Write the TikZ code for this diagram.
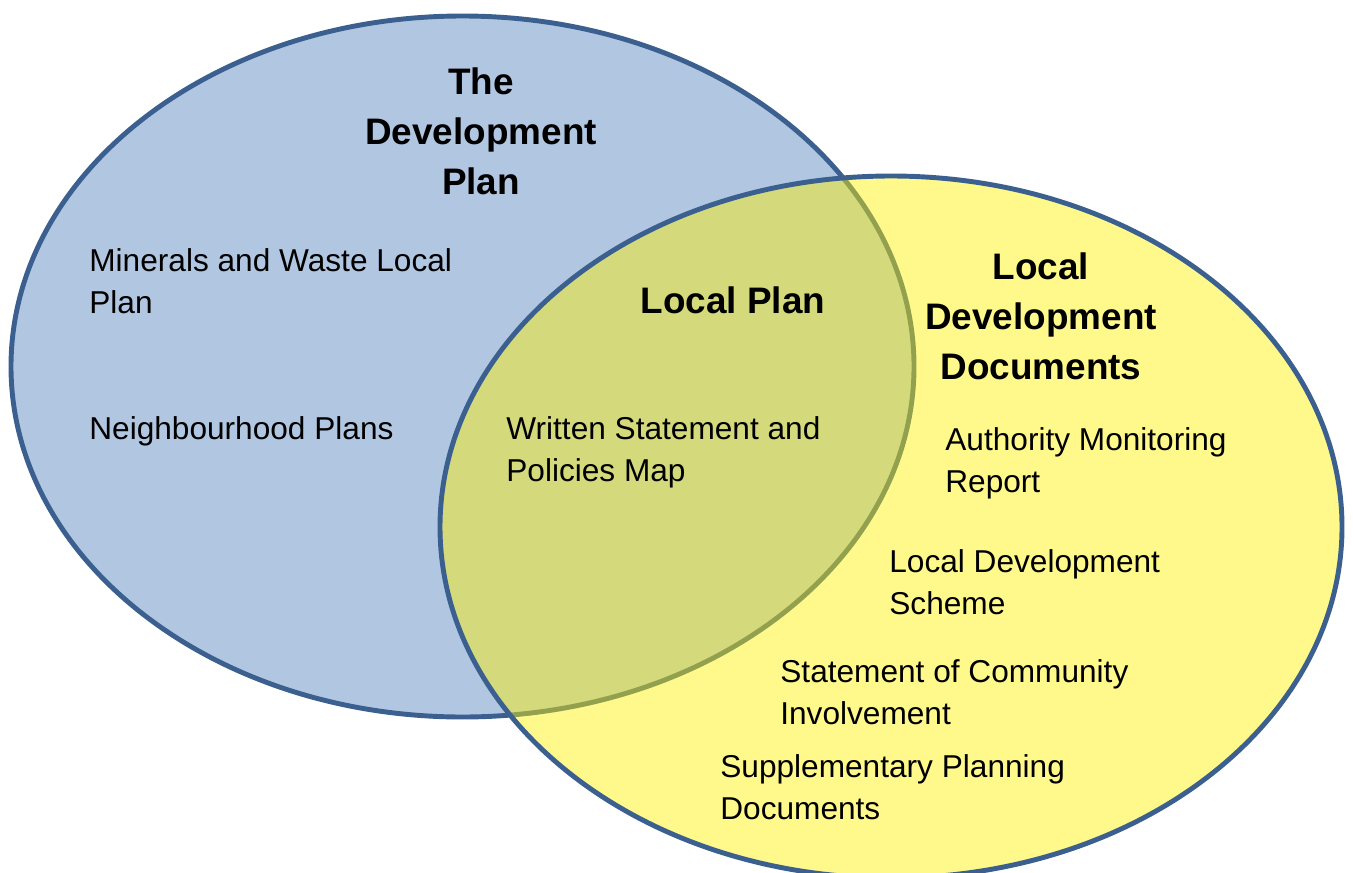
\documentclass[tikz,border=0pt]{standalone}
\usepackage{fontspec}
\setmainfont{Liberation Sans}
\usepackage{tikz}
\definecolor{cBlue}{HTML}{B1C7E1}
\definecolor{cEdge}{HTML}{3B6090}
\definecolor{cInk}{HTML}{000000}
\tikzset{
  venn/.style ={line width=2.8pt,draw=cEdge},
  item/.style ={anchor=base west,align=left,inner sep=0pt,text=cInk,
                font=\fontsize{18}{23.8}\selectfont},
  head/.style ={anchor=base,align=center,inner sep=0pt,text=cInk,
                font=\fontsize{21}{28.4}\selectfont\bfseries},
}

\begin{document}
\begin{tikzpicture}[x=0.02cm,y=-0.02cm]
\useasboundingbox (0,0) rectangle (1354,872);
% the two sets
\draw[venn,fill=cBlue] (462.5,366.5) ellipse [x radius=451.5, y radius=350.5];
\draw[venn,fill=yellow,fill opacity=0.45] (891,527) ellipse [x radius=451, y radius=351];
% headings (placed at baseline of last line)
\node[head] (devplan) at (481,194) {The\\Development\\Plan};
\node[head] (locplan) at (733,313) {Local Plan};
\node[head] (ldd) at (1041,379) {Local\\Development\\Documents};
% members
\node[item] (mwlp) at (89,313) {Minerals and Waste Local\\Plan};
\node[item] (nhp) at (89,439) {Neighbourhood Plans};
\node[item] (wsp) at (506,481) {Written Statement and\\Policies Map};
\node[item] (amr) at (945,492) {Authority Monitoring\\Report};
\node[item] (lds) at (889,614) {Local Development\\Scheme};
\node[item] (sci) at (780,724) {Statement of Community\\Involvement};
\node[item] (spd) at (720,819) {Supplementary Planning\\Documents};
\end{tikzpicture}
\end{document}
